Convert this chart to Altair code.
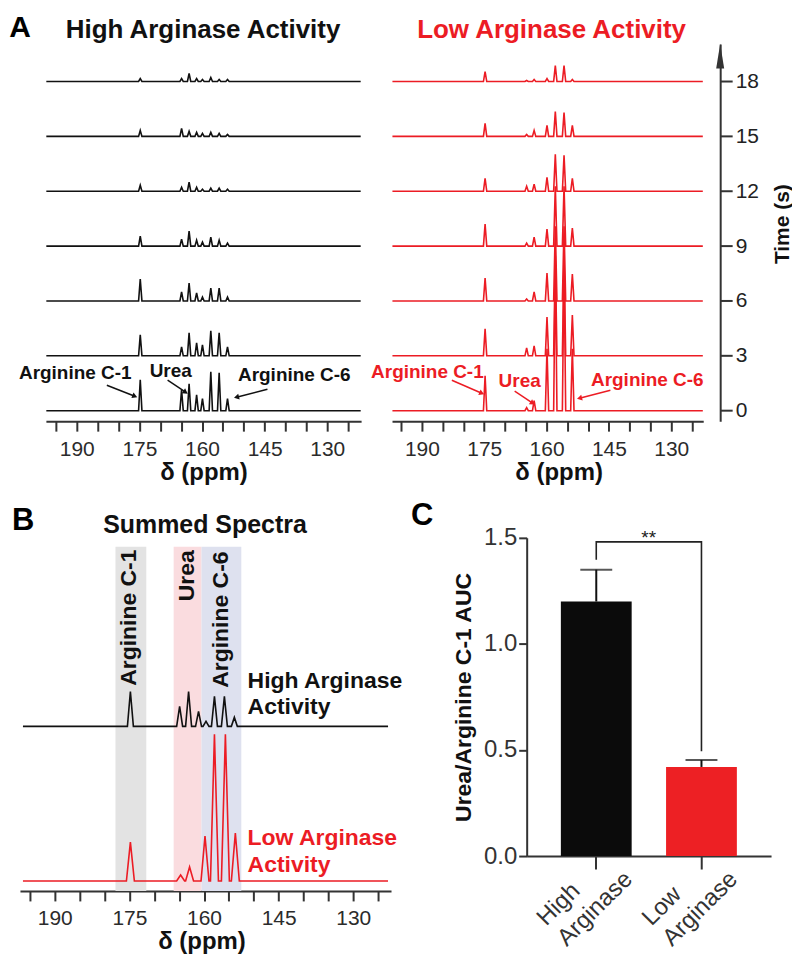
import math
import altair as alt
import pandas as pd

# ---------------- data ----------------
TIMES = [0, 3, 6, 9, 12, 15, 18]

HIGH_PPM = [174.8, 164.9, 163.1, 161.3, 159.9, 157.9, 155.9, 153.9]
HIGH_HEIGHTS = [
    [31, 21, 27, 16, 12, 39, 38, 12],
    [21, 9, 23, 13, 11, 25, 23, 9],
    [22, 9, 18, 8, 4, 13, 13, 4],
    [10, 7, 15, 6, 4, 9, 6, 3],
    [6, 4, 9, 4, 2, 3, 3, 2],
    [6, 8, 5, 4, 3, 4, 3, 2],
    [3, 3, 8, 3, 2, 4, 2, 2],
]
LOW_PPM = [174.8, 164.8, 163.0, 159.9, 157.9, 155.8, 153.8]
LOW_HEIGHTS = [
    [35, 3, 10, 62, 150, 150, 62],
    [27, 8, 10, 39, 100, 100, 41],
    [23, 2, 9, 28, 75, 75, 27],
    [22, 3, 9, 17, 60, 60, 18],
    [13, 5, 7, 14, 37, 36, 13],
    [13, 2, 6, 11, 25, 24, 11],
    [10, 1, 2, 3, 16, 16, 2],
]
SUM_HIGH_PPM = [174.8, 164.9, 163.1, 161.1, 159.6, 157.9, 155.9, 153.9]
SUM_HIGH_HEIGHTS = [35, 20, 35, 15, 5, 30, 30, 9]
SUM_LOW_PPM = [174.8, 164.7, 162.9, 159.8, 157.9, 155.7, 153.7]
SUM_LOW_HEIGHTS = [39, 6, 14, 45, 147, 147, 48]

REGION_NAMES = ["Arginine C-1", "Urea", "Arginine C-6"]
REGION_FROM = [177.8, 166.1, 160.5]
REGION_TO = [171.6, 160.5, 152.5]
REGION_COLORS = ["#e3e3e3", "#fadcdf", "#dee1ef"]

GROUPS = ["High Arginase", "Low Arginase"]
RATIO = [1.2, 0.42]
SEM = [0.15, 0.033]

# ---------------- styling ----------------
RED = "#ec1c24"
BLACK = "#111111"
AX = "#333333"
FONT = "Liberation Sans"
PX_PER_S = 18.333

AL_DOM = [121.9, 197.4]   # left A panel ppm domain
AR_DOM = [122.3, 197.2]   # right A panel ppm domain
B_DOM = [122.4, 197.0]
T_DOM = [-0.573, 20.045]


def spectrum_rows(ppm, heights, lo, hi, w, base, scale, key):
    pts = [(hi, base), (lo, base)]
    for p, h in zip(ppm, heights):
        pts += [(p + w, base), (p, base + h * scale), (p - w, base)]
    return [{"ppm": x, "y": y, "key": key} for x, y in pts]


def arrow_frames(x0, y0, x1, y1, px_x, px_y):
    lines, heads = [], []
    for i, (a, b, c, d) in enumerate(zip(x0, y0, x1, y1)):
        lines += [{"ppm": a, "y": b, "key": i, "o": 0}, {"ppm": c, "y": d, "key": i, "o": 1}]
        dxp = -(c - a) * px_x
        dyp = -(d - b) * px_y
        ang = math.degrees(math.atan2(dxp, -dyp)) % 360
        heads.append({"ppm": c, "y": d, "angle": ang})
    return pd.DataFrame(lines), pd.DataFrame(heads)


def ppm_axis(title_x=None):
    kw = dict(
        values=list(range(125, 200, 5)),
        labelExpr="datum.value % 15 == 10 ? datum.label : ''",
        title="δ (ppm)", titleY=58, titleBaseline="alphabetic",
        titleFontSize=24, titleFontWeight="bold", titleColor="#111",
        tickSize=10, tickWidth=2, tickColor=AX, domainWidth=2, domainColor=AX,
        labelFontSize=21, labelColor="#2b2b2b", labelPadding=7,
        labelOverlap=False, labelFlush=False, grid=False,
    )
    if title_x is not None:
        kw["titleX"] = title_x
    return alt.Axis(**kw)


# ================= Panel A (left, high activity) =================
rows = []
for t, hs in zip(TIMES, HIGH_HEIGHTS):
    rows += spectrum_rows(HIGH_PPM, hs, AL_DOM[0] + 0.1, AL_DOM[1] - 0.1, 0.4, t, 1 / PX_PER_S, f"h{t}")
dfAL = pd.DataFrame(rows)

xAL = alt.X("ppm:Q", scale=alt.Scale(domain=AL_DOM, range=[342, 26], nice=False, zero=False), axis=ppm_axis())
yA = alt.Y("y:Q", scale=alt.Scale(domain=T_DOM, nice=False, zero=False), axis=None)

specAL = alt.Chart(dfAL).mark_line(color=BLACK, strokeWidth=1.6).encode(x=xAL, y=yA, detail="key:N")

annAL = pd.DataFrame({
    "ppm": [190.36, 167.5, 137.9],
    "y": [1.718, 1.827, 1.609],
    "text": ["Arginine C-1", "Urea", "Arginine C-6"],
})
txtAL = alt.Chart(annAL).mark_text(font=FONT, fontSize=19, fontWeight="bold", color=BLACK,
                                    align="center", baseline="alphabetic").encode(x=xAL, y=yA, text="text:N")
lAL, hAL = arrow_frames([182.8, 168.25, 144.34], [1.391, 1.664, 1.173],
                        [176.1, 163.94, 151.75], [0.791, 1.009, 0.736], 4.1854, PX_PER_S)
arrLineAL = alt.Chart(lAL).mark_line(color=BLACK, strokeWidth=1.5).encode(x=xAL, y=yA, detail="key:N", order="o:Q")
arrHeadAL = alt.Chart(hAL).mark_point(shape="triangle-up", filled=True, size=35, color=BLACK, opacity=1).encode(
    x=xAL, y=yA, angle=alt.Angle("angle:Q", scale=None))

headAL = pd.DataFrame({"ppm": [159.76], "y": [20.37], "text": ["High Arginase Activity"]})
titleAL = alt.Chart(headAL).mark_text(font=FONT, fontSize=26, fontWeight="bold", color=BLACK,
                                      align="center", baseline="alphabetic").encode(x=xAL, y=yA, text="text:N")
letterA = alt.Chart(pd.DataFrame({"ppm": [206.2], "y": [20.43], "text": ["A"]})).mark_text(
    font=FONT, fontSize=30, fontWeight="bold", color="#000", align="left", baseline="alphabetic").encode(
    x=xAL, y=yA, text="text:N")
anchor = alt.Chart(pd.DataFrame({"a": [0]})).mark_rect(opacity=0).encode(
    x=alt.value(-12), x2=alt.value(-11), y=alt.value(-35), y2=alt.value(-34))

A_left = alt.layer(anchor, specAL, txtAL, arrLineAL, arrHeadAL, titleAL, letterA).properties(width=342, height=378)

# ================= Panel A (right, low activity) =================
rows = []
for t, hs in zip(TIMES, LOW_HEIGHTS):
    rows += spectrum_rows(LOW_PPM, hs, AR_DOM[0] + 0.1, AR_DOM[1] - 0.1, 0.4, t, 1 / PX_PER_S, f"l{t}")
dfAR = pd.DataFrame(rows)

xAR = alt.X("ppm:Q", scale=alt.Scale(domain=AR_DOM, range=[312, 0], nice=False, zero=False), axis=ppm_axis(167))
time_axis = alt.Axis(
    orient="right", offset=17, values=TIMES, tickSize=12, tickWidth=2, tickColor=AX,
    domainWidth=2, domainColor=AX, labelFontSize=21, labelColor="#222", labelPadding=3,
    title="Time (s)", titleFontSize=21, titleFontWeight="bold", titleColor="#111",
    titleAngle=270, titleX=62, titleY=180, titleAlign="center", titleBaseline="middle", grid=False)
yAR = alt.Y("y:Q", scale=alt.Scale(domain=T_DOM, nice=False, zero=False), axis=time_axis)

specAR = alt.Chart(dfAR).mark_line(color=RED, strokeWidth=1.6).encode(x=xAR, y=yAR, detail="key:N")
annAR = pd.DataFrame({
    "ppm": [188.68, 166.48, 135.76],
    "y": [1.773, 1.282, 1.336],
    "text": ["Arginine C-1", "Urea", "Arginine C-6"],
})
txtAR = alt.Chart(annAR).mark_text(font=FONT, fontSize=19, fontWeight="bold", color=RED,
                                    align="center", baseline="alphabetic").encode(x=xAR, y=yAR, text="text:N")
lAR, hAR = arrow_frames([182.8, 167.68, 144.64], [1.664, 1.064, 1.118],
                        [175.6, 163.36, 152.08], [0.955, 0.409, 0.682], 4.1656, PX_PER_S)
arrLineAR = alt.Chart(lAR).mark_line(color=RED, strokeWidth=1.5).encode(x=xAR, y=yAR, detail="key:N", order="o:Q")
arrHeadAR = alt.Chart(hAR).mark_point(shape="triangle-up", filled=True, size=35, color=RED, opacity=1).encode(
    x=xAR, y=yAR, angle=alt.Angle("angle:Q", scale=None))
headAR = pd.DataFrame({"ppm": [158.8], "y": [20.37], "text": ["Low Arginase Activity"]})
titleAR = alt.Chart(headAR).mark_text(font=FONT, fontSize=26, fontWeight="bold", color=RED,
                                      align="center", baseline="alphabetic").encode(x=xAR, y=yAR, text="text:N")
arrowTop = alt.Chart(pd.DataFrame({"y": [19.39]})).mark_point(
    shape="M0,-1L0.32,1L-0.32,1Z", filled=True, size=625, color=AX, opacity=1).encode(
    x=alt.value(329), y=yAR)

A_right = alt.layer(specAR, txtAR, arrLineAR, arrHeadAR, titleAR, arrowTop).properties(width=312, height=378)

# ================= Panel B (summed spectra) =================
xB = alt.X("ppm:Q", scale=alt.Scale(domain=B_DOM, range=[372, 0], nice=False, zero=False), axis=ppm_axis(182))
yB = alt.Y("y:Q", scale=alt.Scale(domain=[-10, 342], nice=False, zero=False), axis=None)

regions = pd.DataFrame({"ppm": REGION_FROM, "ppm2": REGION_TO, "y": [335] * 3, "y2": [-10] * 3,
                        "color": REGION_COLORS})
shade = alt.Chart(regions).mark_rect().encode(x=xB, x2="ppm2:Q", y=yB, y2="y2:Q",
                                              color=alt.Color("color:N", scale=None))
vlab = pd.DataFrame({"ppm": [175.0, 163.5, 156.5], "y": [264, 306, 262], "text": REGION_NAMES})
vtext = alt.Chart(vlab).mark_text(font=FONT, fontSize=23, fontWeight="bold", color=BLACK, angle=270,
                                  align="center", baseline="middle").encode(x=xB, y=yB, text="text:N")

dfB = pd.DataFrame(
    spectrum_rows(SUM_HIGH_PPM, SUM_HIGH_HEIGHTS, B_DOM[0] + 0.6, B_DOM[1] - 0.6, 0.6, 155, 1, "high")
)
dfBr = pd.DataFrame(
    spectrum_rows(SUM_LOW_PPM, SUM_LOW_HEIGHTS, B_DOM[0] + 0.6, B_DOM[1] - 0.6, 0.8, 0, 1, "low")
)
specBh = alt.Chart(dfB).mark_line(color=BLACK, strokeWidth=1.6).encode(x=xB, y=yB, detail="key:N")
specBl = alt.Chart(dfBr).mark_line(color=RED, strokeWidth=1.6).encode(x=xB, y=yB, detail="key:N")

labBh = alt.Chart(pd.DataFrame({"ppm": [151.24], "y": [193], "text": ["High Arginase\nActivity"]})).mark_text(
    font=FONT, fontSize=23, fontWeight="bold", color=BLACK, align="left", baseline="alphabetic",
    lineBreak="\n", lineHeight=26).encode(x=xB, y=yB, text="text:N")
labBl = alt.Chart(pd.DataFrame({"ppm": [151.24], "y": [36], "text": ["Low Arginase\nActivity"]})).mark_text(
    font=FONT, fontSize=23, fontWeight="bold", color=RED, align="left", baseline="alphabetic",
    lineBreak="\n", lineHeight=27).encode(x=xB, y=yB, text="text:N")
titleB = alt.Chart(pd.DataFrame({"ppm": [159.8], "y": [349], "text": ["Summed Spectra"]})).mark_text(
    font=FONT, fontSize=25, fontWeight="bold", color=BLACK, align="center", baseline="alphabetic").encode(
    x=xB, y=yB, text="text:N")
letterB = alt.Chart(pd.DataFrame({"ppm": [198.6], "y": [352], "text": ["B"]})).mark_text(
    font=FONT, fontSize=31, fontWeight="bold", color="#000", align="left", baseline="alphabetic").encode(
    x=xB, y=yB, text="text:N")

B = alt.layer(shade, vtext, specBh, specBl, labBh, labBl, titleB, letterB).properties(width=372, height=352)

# ================= Panel C (bar chart) =================
bars = pd.DataFrame({"group": GROUPS, "ratio": RATIO,
                     "upper": [r + s for r, s in zip(RATIO, SEM)],
                     "color": ["#0b0b0b", "#ed2024"]})
caps = pd.DataFrame({"group": GROUPS, "ratio": [r + s for r, s in zip(RATIO, SEM)]})

xC = alt.X("group:N", scale=alt.Scale(domain=GROUPS, range=[135, 380], paddingInner=0.327, paddingOuter=0.325),
           axis=alt.Axis(labels=False, title=None, tickSize=13, tickWidth=2, tickColor=AX,
                         domainWidth=2, domainColor=AX, grid=False))
yC = alt.Y("ratio:Q", scale=alt.Scale(domain=[0, 1.5], range=[317, -2], nice=False, zero=False),
           axis=alt.Axis(values=[0, 0.5, 1.0, 1.5], format=".1f", title="Urea/Arginine C-1 AUC", offset=-135,
                         titleFontSize=23, titleFontWeight="bold", titleColor="#111", titlePadding=8,
                         labelFontSize=24, labelColor="#333", labelPadding=2, tickSize=8, tickWidth=2,
                         tickColor=AX, domainWidth=2, domainColor=AX, grid=False))

barC = alt.Chart(bars).mark_bar().encode(x=xC, y=yC, color=alt.Color("color:N", scale=None))
errC = alt.Chart(bars).mark_rule(color="#111", strokeWidth=2).encode(x=xC, y=yC, y2="upper:Q")
capC = alt.Chart(caps).mark_tick(color="#111", thickness=2, size=32).encode(x=xC, y=yC)
bracket = pd.DataFrame({"group": [GROUPS[0], GROUPS[0], GROUPS[1], GROUPS[1]],
                        "ratio": [1.397, 1.481, 1.481, 0.494], "o": [0, 1, 2, 3]})
brC = alt.Chart(bracket).mark_line(color="#222", strokeWidth=1.6).encode(x=xC, y=yC, order="o:Q")
starC = alt.Chart(pd.DataFrame({"group": [GROUPS[0]], "ratio": [1.473], "text": ["**"]})).mark_text(
    font=FONT, fontSize=19, color="#222", align="center", baseline="alphabetic", dx=52.6).encode(
    x=xC, y=yC, text="text:N")
xlabC = alt.Chart(pd.DataFrame({"group": GROUPS, "text": ["High\nArginase", "Low\nArginase"]})).mark_text(
    font=FONT, fontSize=24, color="#333", angle=315, align="left", baseline="alphabetic",
    lineBreak="\n", lineHeight=29, dx=-35.4, dy=-35.4).encode(x=xC, y=alt.value(388), text="text:N")
letterC = alt.Chart(pd.DataFrame({"text": ["C"]})).mark_text(
    font=FONT, fontSize=31, fontWeight="bold", color="#000", align="left", baseline="alphabetic").encode(
    x=alt.value(19), y=alt.value(-15), text="text:N")

C = alt.layer(barC, errC, capC, brC, starC, xlabC, letterC).properties(width=380, height=317)

chart = alt.concat(
    A_left, A_right, B, C, columns=2, spacing={"row": 119, "column": 1}, align="each", bounds="flush"
).properties(padding=0).configure(font=FONT).configure_view(stroke=None).configure_axis(
    labelFont=FONT, titleFont=FONT)

chart.save("out.html", embed_options={"renderer": "svg", "actions": False})
